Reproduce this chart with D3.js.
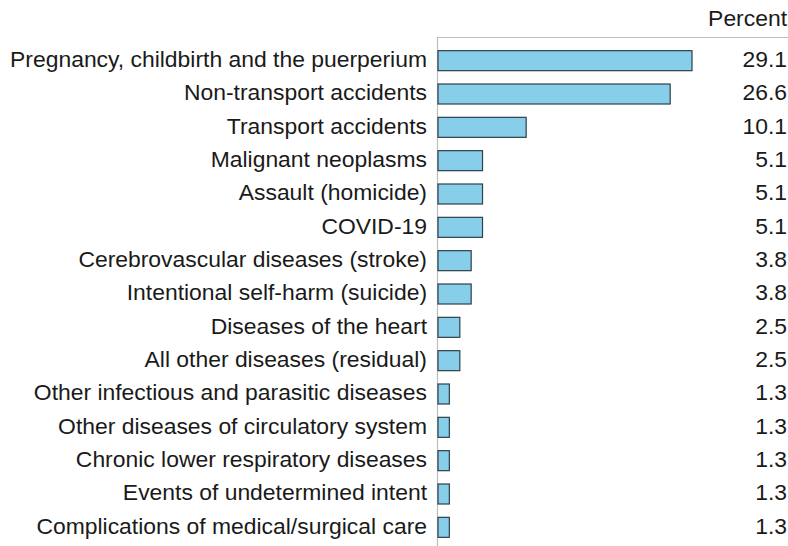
<!DOCTYPE html>
<html><head><meta charset="utf-8">
<script src="https://cdn.jsdelivr.net/npm/d3@7"></script>
<style>body{margin:0;background:#fff}svg{display:block}</style>
</head><body>
<svg id="c" width="788" height="546"></svg>
<script>
const categories = [
  "Pregnancy, childbirth and the puerperium",
  "Non-transport accidents",
  "Transport accidents",
  "Malignant neoplasms",
  "Assault (homicide)",
  "COVID-19",
  "Cerebrovascular diseases (stroke)",
  "Intentional self-harm (suicide)",
  "Diseases of the heart",
  "All other diseases (residual)",
  "Other infectious and parasitic diseases",
  "Other diseases of circulatory system",
  "Chronic lower respiratory diseases",
  "Events of undetermined intent",
  "Complications of medical/surgical care"
];
const values = [29.1, 26.6, 10.1, 5.1, 5.1, 5.1, 3.8, 3.8, 2.5, 2.5, 1.3, 1.3, 1.3, 1.3, 1.3];
const unitLabel = "Percent";

const svg = d3.select("#c");
const font = "'Liberation Sans', Arial, sans-serif";
const fs = 22.9;
const x0 = 438;
const x = d3.scaleLinear().domain([0, 29.1]).range([x0, 692]);
const y = d3.scaleBand().domain(categories).range([44, 544]).paddingInner(0.4).paddingOuter(0.2);

// top rule and axis line
svg.append("line").attr("x1", x0).attr("x2", 788).attr("y1", 37.5).attr("y2", 37.5)
  .attr("stroke", "#bdbdbd").attr("stroke-width", 1.2);
svg.append("line").attr("x1", x0 - 0.5).attr("x2", x0 - 0.5).attr("y1", 37).attr("y2", 546)
  .attr("stroke", "#bdbdbd").attr("stroke-width", 1.2);

svg.append("g").selectAll("rect").data(values).join("rect")
  .attr("x", x0)
  .attr("y", (d, i) => y(categories[i]))
  .attr("width", d => x(d) - x0)
  .attr("height", y.bandwidth())
  .attr("fill", "#87ceeb")
  .attr("stroke", "#2f3f4a")
  .attr("stroke-width", 1.2);

svg.append("g").selectAll("text").data(categories).join("text")
  .attr("x", 427)
  .attr("y", d => y(d) + y.bandwidth() / 2)
  .attr("dy", "0.28em")
  .attr("text-anchor", "end")
  .attr("font-family", font).attr("font-size", fs).attr("fill", "#1a1a1a")
  .text(d => d);

svg.append("g").selectAll("text").data(values).join("text")
  .attr("x", 787)
  .attr("y", (d, i) => y(categories[i]) + y.bandwidth() / 2)
  .attr("dy", "0.28em")
  .attr("text-anchor", "end")
  .attr("font-family", font).attr("font-size", fs).attr("fill", "#1a1a1a")
  .text(d => d.toFixed(1));

svg.append("text").attr("x", 787).attr("y", 26)
  .attr("text-anchor", "end")
  .attr("font-family", font).attr("font-size", fs).attr("fill", "#1a1a1a")
  .text(unitLabel);
</script>
</body></html>
